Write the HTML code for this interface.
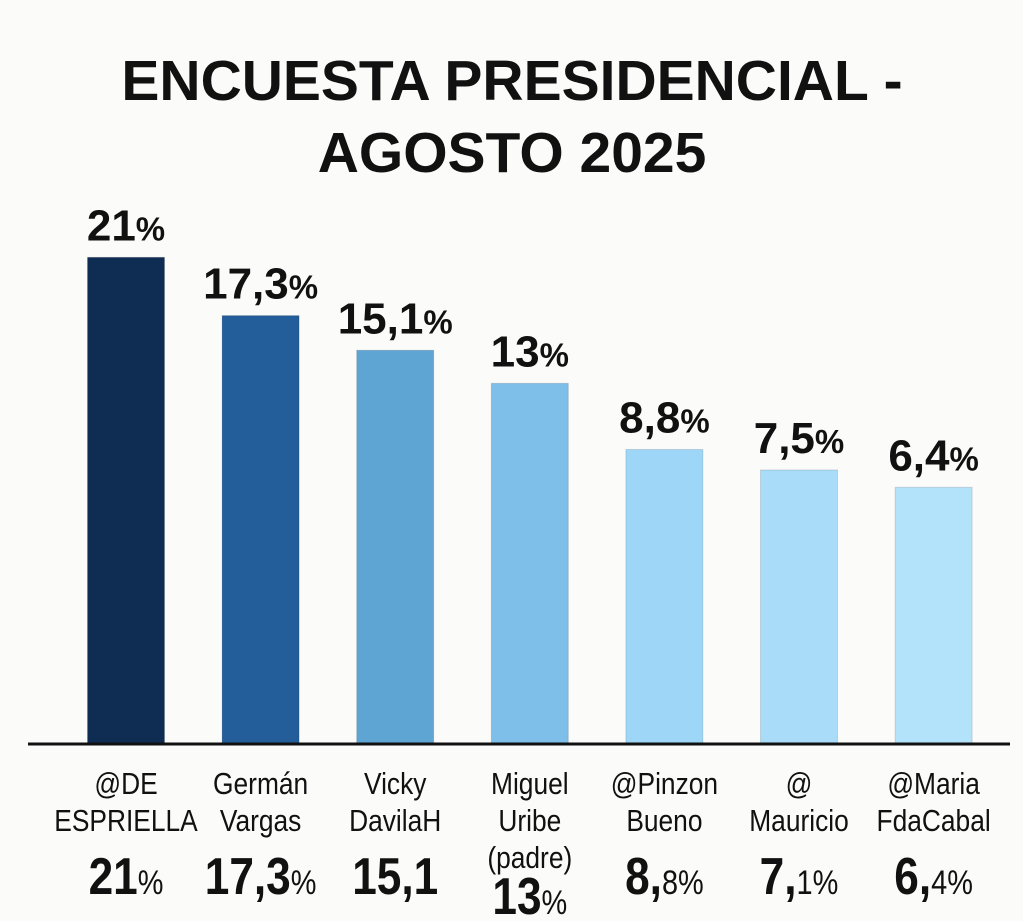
<!DOCTYPE html>
<html><head><meta charset="utf-8"><style>
html,body{margin:0;padding:0;background:#fbfbfa;}
svg{display:block;font-family:"Liberation Sans",sans-serif;}
</style></head><body>
<svg id="chart" width="1023" height="921" viewBox="0 0 1023 921">
<rect x="0" y="0" width="1023" height="921" fill="#fbfbfa"/>
<text x="512" y="100" text-anchor="middle" font-size="57" font-weight="bold" fill="#111">ENCUESTA PRESIDENCIAL -</text>
<text x="512" y="172" text-anchor="middle" font-size="57" font-weight="bold" fill="#111">AGOSTO 2025</text>
<g id="bars"></g>
<line x1="28" y1="744" x2="1010" y2="744" stroke="#111" stroke-width="3"/>
</svg>
<script>
const categories = [["@DE","ESPRIELLA"],["Germán","Vargas"],["Vicky","DavilaH"],["Miguel","Uribe","(padre)"],["@Pinzon","Bueno"],["@","Mauricio"],["@Maria","FdaCabal"]];
const values = [21, 17.3, 15.1, 13, 8.8, 7.5, 6.4];
const topLabels = ["21","17,3","15,1","13","8,8","7,5","6,4"];
const bottomLabels = [["21","%"],["17,3","%"],["15,1",""],["13","%"],["8","8%"],["7","1%"],["6","4%"]];
const colors = ["#0f2d52","#235d9a","#5ea5d3","#7dbfe8","#9dd6f7","#a8dcf8","#b3e2fb"];
const NS="http://www.w3.org/2000/svg";
const g=document.getElementById('bars');
const baseY=744, yMin=-9.9, pxPer=15.75;
function y(v){return baseY-(v-yMin)*pxPer;}
function xc(i){return 126+i*134.6;}
const bw=77;
function mk(tag,attrs,txt){const e=document.createElementNS(NS,tag);for(const k in attrs)e.setAttribute(k,attrs[k]);if(txt!==undefined)e.textContent=txt;g.appendChild(e);return e;}
values.forEach((v,i)=>{
  const cx=xc(i), top=y(v);
  const r=mk('rect',{x:cx-bw/2,y:top,width:bw,height:baseY-top,fill:colors[i],stroke:'rgba(0,0,0,0.12)','stroke-width':1});
  
  
  const t=mk('text',{x:cx,y:top-17,'text-anchor':'middle','font-size':44,'font-weight':'bold',fill:'#111'});
  
  
  const s1=document.createElementNS(NS,'tspan');s1.textContent=topLabels[i];t.appendChild(s1);
  const s2=document.createElementNS(NS,'tspan');s2.setAttribute('font-size','33');s2.textContent='%';t.appendChild(s2);
  categories[i].forEach((ln,j)=>{
    const c=mk('text',{x:0,y:0,'text-anchor':'middle','font-size':31,fill:'#111',transform:`translate(${cx},${794+j*37}) scale(0.85,1)`},ln);
    
    
  });
  const by = categories[i].length>2 ? 914 : 894;
  const b=mk('text',{x:0,y:0,'text-anchor':'middle','font-size':52,'font-weight':'bold',fill:'#111',transform:`translate(${cx},${by}) scale(0.85,1)`});
  
  
  const a=document.createElementNS(NS,'tspan');a.textContent=bottomLabels[i][0]+(bottomLabels[i][1]&&bottomLabels[i][1]!=='%'?',':'');b.appendChild(a);
  const p=document.createElementNS(NS,'tspan');p.setAttribute('font-size','34');p.setAttribute('font-weight','normal');p.textContent=bottomLabels[i][1];b.appendChild(p);
});
</script>
</body></html>
